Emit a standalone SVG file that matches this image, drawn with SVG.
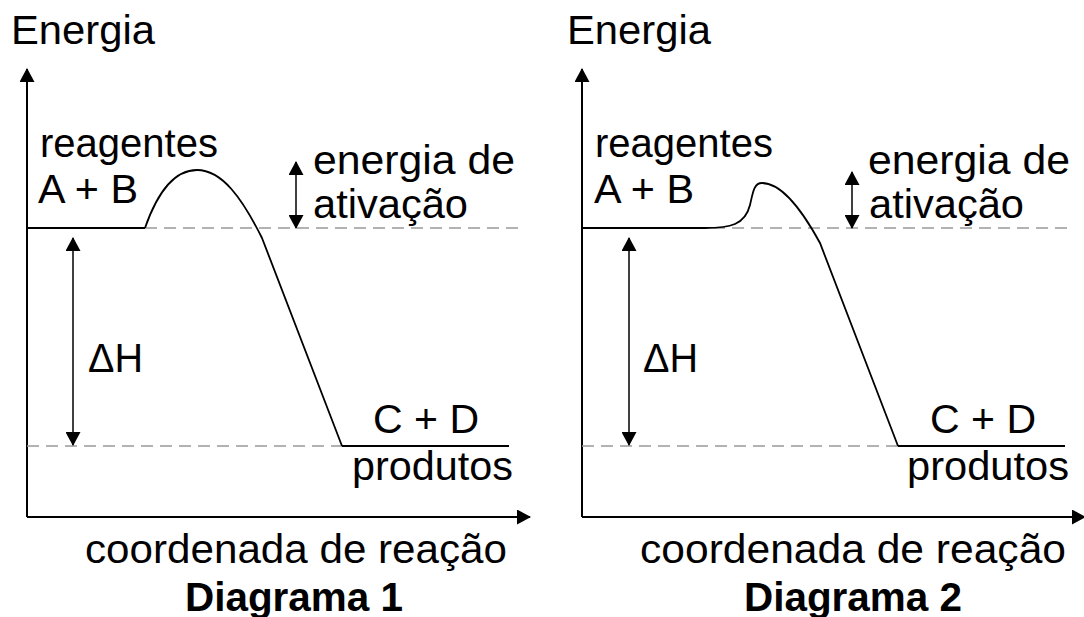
<svg xmlns="http://www.w3.org/2000/svg" width="1084" height="617" viewBox="0 0 1084 617">
<style>
text{font-family:"Liberation Sans",Arial,sans-serif;font-size:40px;fill:#000}
.b{font-weight:bold}
.ax{stroke:#000;stroke-width:2;fill:none}
.lv{stroke:#000;stroke-width:2;fill:none}
.cv{stroke:#000;stroke-width:1.8;fill:none}
.ar{stroke:#000;stroke-width:1.5;fill:none}
.dash{stroke:#999;stroke-width:1.5;stroke-dasharray:12 7;fill:none}
</style>
<defs>
<marker id="ah" markerUnits="userSpaceOnUse" markerWidth="14" markerHeight="15" viewBox="0 0 14 15" refX="13" refY="7.5" orient="auto-start-reverse">
<path d="M0,0 L14,7.5 L0,15 z" fill="#000"/>
</marker>
</defs>
<rect width="1084" height="617" fill="#fff"/>

<g id="connectors">
<!-- diagram 1 -->
<line class="ax" x1="27" y1="517" x2="27" y2="69" marker-end="url(#ah)"/>
<line class="ax" x1="27" y1="517" x2="530" y2="517" marker-end="url(#ah)"/>
<line class="dash" x1="145" y1="228" x2="518" y2="228"/>
<line class="dash" x1="27" y1="446" x2="342" y2="446"/>
<line class="lv" x1="27" y1="228" x2="145" y2="228"/>
<path class="cv" d="M145,228 C160,185 178,170 197,170 C222,170 242,198 262,238 L342,446"/>
<line class="lv" x1="342" y1="446" x2="509" y2="446"/>
<line class="ar" x1="73" y1="238" x2="73" y2="445" marker-start="url(#ah)" marker-end="url(#ah)"/>
<line class="ar" x1="296" y1="162" x2="296" y2="228" marker-start="url(#ah)" marker-end="url(#ah)"/>
<!-- diagram 2 -->
<line class="ax" x1="582" y1="517" x2="582" y2="69" marker-end="url(#ah)"/>
<line class="ax" x1="582" y1="517" x2="1085" y2="517" marker-end="url(#ah)"/>
<line class="dash" x1="713" y1="228" x2="1073" y2="228"/>
<line class="dash" x1="582" y1="446" x2="898" y2="446"/>
<path class="cv" d="M582,228 L705,228 C730,228 745,225 750,205 C753,192 754,183 762,183 C782,183 802,210 820,243 L898,446"/>
<line class="lv" x1="898" y1="446" x2="1065" y2="446"/>
<line class="ar" x1="629" y1="238" x2="629" y2="445" marker-start="url(#ah)" marker-end="url(#ah)"/>
<line class="ar" x1="852" y1="172" x2="852" y2="228" marker-start="url(#ah)" marker-end="url(#ah)"/>
</g>

<g id="diagram1">
<text id="energia1" x="11" y="44" textLength="144" lengthAdjust="spacingAndGlyphs">Energia</text>
<text id="reagentes1" x="40" y="157" textLength="178" lengthAdjust="spacingAndGlyphs">reagentes</text>
<text id="ab1" x="38" y="203" textLength="100" lengthAdjust="spacingAndGlyphs">A + B</text>
<text id="ea1a" x="313" y="174" textLength="202" lengthAdjust="spacingAndGlyphs">energia de</text>
<text id="ea1b" x="313" y="218" textLength="155" lengthAdjust="spacingAndGlyphs">ativação</text>
<text id="dh1" x="88" y="372" textLength="55" lengthAdjust="spacingAndGlyphs">ΔH</text>
<text id="cd1" x="373" y="433" textLength="106" lengthAdjust="spacingAndGlyphs">C + D</text>
<text id="prod1" x="352" y="480" textLength="161" lengthAdjust="spacingAndGlyphs">produtos</text>
<text id="coord1" x="85" y="563" textLength="422" lengthAdjust="spacingAndGlyphs">coordenada de reação</text>
<text id="title1" class="b" x="185" y="611" textLength="218" lengthAdjust="spacingAndGlyphs">Diagrama 1</text>
</g>

<g id="diagram2">
<text id="energia2" x="567" y="44" textLength="144" lengthAdjust="spacingAndGlyphs">Energia</text>
<text id="reagentes2" x="595" y="157" textLength="178" lengthAdjust="spacingAndGlyphs">reagentes</text>
<text id="ab2" x="594" y="203" textLength="100" lengthAdjust="spacingAndGlyphs">A + B</text>
<text id="ea2a" x="868" y="174" textLength="202" lengthAdjust="spacingAndGlyphs">energia de</text>
<text id="ea2b" x="869" y="218" textLength="155" lengthAdjust="spacingAndGlyphs">ativação</text>
<text id="dh2" x="643" y="372" textLength="55" lengthAdjust="spacingAndGlyphs">ΔH</text>
<text id="cd2" x="930" y="433" textLength="106" lengthAdjust="spacingAndGlyphs">C + D</text>
<text id="prod2" x="907" y="480" textLength="162" lengthAdjust="spacingAndGlyphs">produtos</text>
<text id="coord2" x="640" y="563" textLength="426" lengthAdjust="spacingAndGlyphs">coordenada de reação</text>
<text id="title2" class="b" x="744" y="611" textLength="218" lengthAdjust="spacingAndGlyphs">Diagrama 2</text>
</g>
</svg>
